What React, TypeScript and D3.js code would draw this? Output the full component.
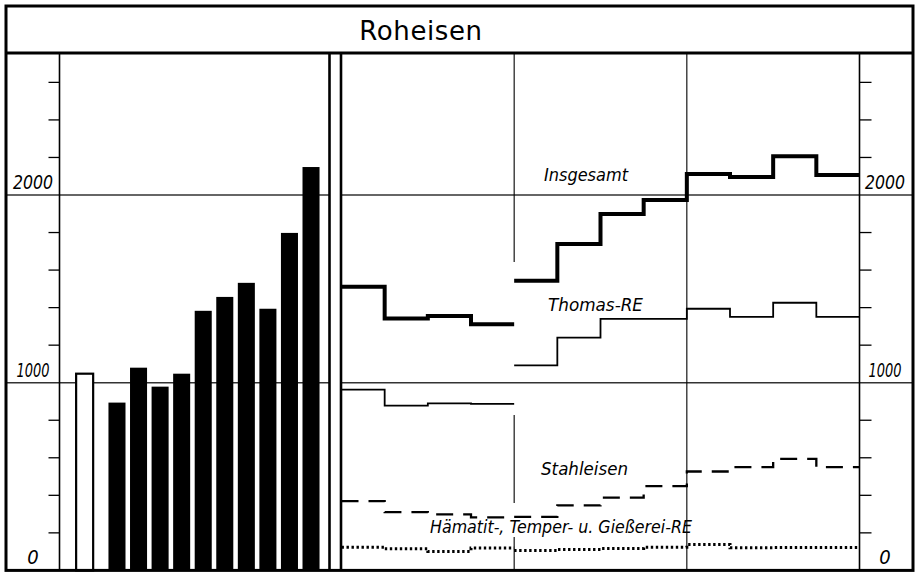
import React from 'react';
import * as d3 from 'd3';

const W = 918;
const H = 573;

// Left panel: annual averages (1000 t per month)
const preWarYears = ['1936'];
const preWarValues = [1048];
const barYears = ['1951', '1952', '1953', '1954', '1955', '1956', '1957', '1958', '1959', '1960'];
const barValues = [894, 1080, 979, 1048, 1383, 1457, 1532, 1394, 1798, 2149];

// Right panel: quarterly values
const quarters = [
  '1958 I', '1958 II', '1958 III', '1958 IV',
  '1959 I', '1959 II', '1959 III', '1959 IV',
  '1960 I', '1960 II', '1960 III', '1960 IV',
];
const insgesamt = [1511, 1342, 1355, 1311, 1543, 1739, 1899, 1973, 2112, 2096, 2207, 2106];
const thomas = [963, 878, 890, 887, 1092, 1240, 1340, 1340, 1394, 1351, 1426, 1351];
const stahleisen = [369, 310, 298, 282, 285, 346, 388, 449, 527, 550, 594, 550];
const haematit = [124, 115, 101, 119, 106, 112, 117, 124, 138, 121, 122, 122];
const seriesBreakBefore = ['1959 I'];

const yLabels = [0, 1000, 2000];
const seriesNames = ['Insgesamt', 'Thomas-RE', 'Stahleisen', 'Hämatit-, Temper- u. Gießerei-RE'];
const title = 'Roheisen';

export default function App() {
  const frameL = 6, frameR = 913, frameT = 6, titleB = 53, bottom = 570.4;
  const leftPanelR = 329.5, rightPanelL = 341, leftAxisX = 59.5, rightAxisX = 859.5;

  const y = d3.scaleLinear().domain([0, 2000]).range([bottom, 195]);
  const yMax = y.invert(titleB);
  const minorTicks = d3.range(200, yMax, 200).filter((v) => v % 1000 !== 0);

  const xb = d3.scaleBand<string>().domain(barYears).range([106.2, 321.8]).paddingInner(0.21).paddingOuter(0.105);
  const bw = xb.bandwidth();
  const step = xb.step();

  const xq = d3.scaleLinear().domain([0, quarters.length]).range([341.5, 859.5]);

  const breakIdx = seriesBreakBefore.map((q) => quarters.indexOf(q));
  const segs: [number, number][] = [];
  let s0 = 0;
  breakIdx.forEach((b) => { segs.push([s0, b - 1]); s0 = b; });
  segs.push([s0, quarters.length - 1]);

  const stepPath = (vals: number[]) =>
    segs
      .map(([a, b]) => {
        const pts: [number, number][] = d3.range(a, b + 1).map((i) => [xq(i), y(vals[i])]);
        pts.push([xq(b + 1), y(vals[b])]);
        return d3.line().curve(d3.curveStepAfter)(pts) || '';
      })
      .join(' ');

  const yearStarts = quarters.map((q, i) => ({ q, i })).filter((d, i) => i > 0 && d.q.slice(0, 4) !== quarters[i - 1].slice(0, 4));

  const dividerGaps: [number, number][] = [[1643, yMax], [359, 828], [0, 178]];

  const axisFont = { fontFamily: '"DejaVu Sans Condensed", "DejaVu Sans", sans-serif', fontStyle: 'italic', fontSize: 20 } as const;
  const labelFont = { fontFamily: '"DejaVu Sans Condensed", "DejaVu Sans", sans-serif', fontStyle: 'italic', fontSize: 18.5 } as const;
  const axisLen = (v: number) => (v === 0 ? undefined : v === 1000 ? 33 : 40);

  return (
    <svg width={W} height={H} style={{ position: 'fixed', left: 0, top: 0, background: '#fff' }}>
      <rect x={0} y={0} width={W} height={H} fill="#fff" />
      {/* gridlines */}
      {[1000, 2000].map((v) => (
        <g key={'g' + v}>
          <line x1={frameL} x2={leftPanelR} y1={y(v)} y2={y(v)} stroke="#333" strokeWidth={1.4} />
          <line x1={rightPanelL} x2={frameR} y1={y(v)} y2={y(v)} stroke="#333" strokeWidth={1.4} />
        </g>
      ))}
      {/* left axis */}
      <line x1={leftAxisX} x2={leftAxisX} y1={titleB} y2={bottom} stroke="#000" strokeWidth={1.6} />
      {minorTicks.map((v) => (
        <line key={'lt' + v} x1={leftAxisX - 11} x2={leftAxisX} y1={y(v)} y2={y(v)} stroke="#000" strokeWidth={1.3} />
      ))}
      {yLabels.map((v) => (
        <text key={'ll' + v} x={33} y={y(v) - 6} textAnchor="middle" style={axisFont}
          textLength={axisLen(v)} lengthAdjust="spacingAndGlyphs">{v}</text>
      ))}
      {/* bars */}
      {preWarYears.map((yr, i) => (
        <rect key={yr} x={(xb(barYears[0]) as number) - 1.5 * step} y={y(preWarValues[i])} width={bw}
          height={bottom - y(preWarValues[i])} fill="#fff" stroke="#000" strokeWidth={2.2} />
      ))}
      {barYears.map((yr, i) => (
        <rect key={yr} x={xb(yr)} y={y(barValues[i])} width={bw} height={bottom - y(barValues[i])} fill="#000" />
      ))}
      {/* right panel dividers */}
      {yearStarts.map((d, k) =>
        k === 0 ? (
          dividerGaps.map(([lo, hi], j) => (
            <line key={'dv' + j} x1={xq(d.i)} x2={xq(d.i)} y1={y(hi)} y2={y(lo)} stroke="#000" strokeWidth={1.1} />
          ))
        ) : (
          <line key={'d' + k} x1={xq(d.i)} x2={xq(d.i)} y1={titleB} y2={bottom} stroke="#000" strokeWidth={1.1} />
        )
      )}
      {/* right axis */}
      <line x1={rightAxisX} x2={rightAxisX} y1={titleB} y2={bottom} stroke="#000" strokeWidth={1.6} />
      {minorTicks.map((v) => (
        <line key={'rt' + v} x1={rightAxisX} x2={rightAxisX + 12} y1={y(v)} y2={y(v)} stroke="#000" strokeWidth={1.3} />
      ))}
      {yLabels.map((v) => (
        <text key={'rl' + v} x={885} y={y(v) - 6} textAnchor="middle" style={axisFont}
          textLength={axisLen(v)} lengthAdjust="spacingAndGlyphs">{v}</text>
      ))}
      {/* series */}
      <path d={stepPath(haematit)} fill="none" stroke="#000" strokeWidth={3} strokeDasharray="2.4 2.6" />
      <path d={stepPath(stahleisen)} fill="none" stroke="#000" strokeWidth={2.3} strokeDasharray="17 10" />
      <path d={stepPath(thomas)} fill="none" stroke="#000" strokeWidth={1.8} />
      <path d={stepPath(insgesamt)} fill="none" stroke="#000" strokeWidth={4} strokeLinejoin="miter" />
      {/* series labels */}
      <text x={544} y={181} style={labelFont} textLength={84} lengthAdjust="spacingAndGlyphs">{seriesNames[0]}</text>
      <text x={548} y={311} style={labelFont} textLength={95} lengthAdjust="spacingAndGlyphs">{seriesNames[1]}</text>
      <text x={541} y={475} style={labelFont} textLength={87} lengthAdjust="spacingAndGlyphs">{seriesNames[2]}</text>
      <text x={430} y={533} style={labelFont} textLength={262} lengthAdjust="spacingAndGlyphs">{seriesNames[3]}</text>
      {/* frame */}
      <rect x={frameL} y={frameT} width={frameR - frameL} height={bottom - frameT} fill="none" stroke="#000" strokeWidth={3} />
      <line x1={frameL} x2={frameR} y1={titleB} y2={titleB} stroke="#000" strokeWidth={3} />
      <line x1={leftPanelR} x2={leftPanelR} y1={titleB} y2={bottom} stroke="#000" strokeWidth={2.6} />
      <line x1={rightPanelL} x2={rightPanelL} y1={titleB} y2={bottom} stroke="#000" strokeWidth={2.6} />
      <text x={421} y={40} textAnchor="middle" fontFamily='"DejaVu Sans", sans-serif' fontSize={26} letterSpacing={0.6}>{title}</text>
    </svg>
  );
}
